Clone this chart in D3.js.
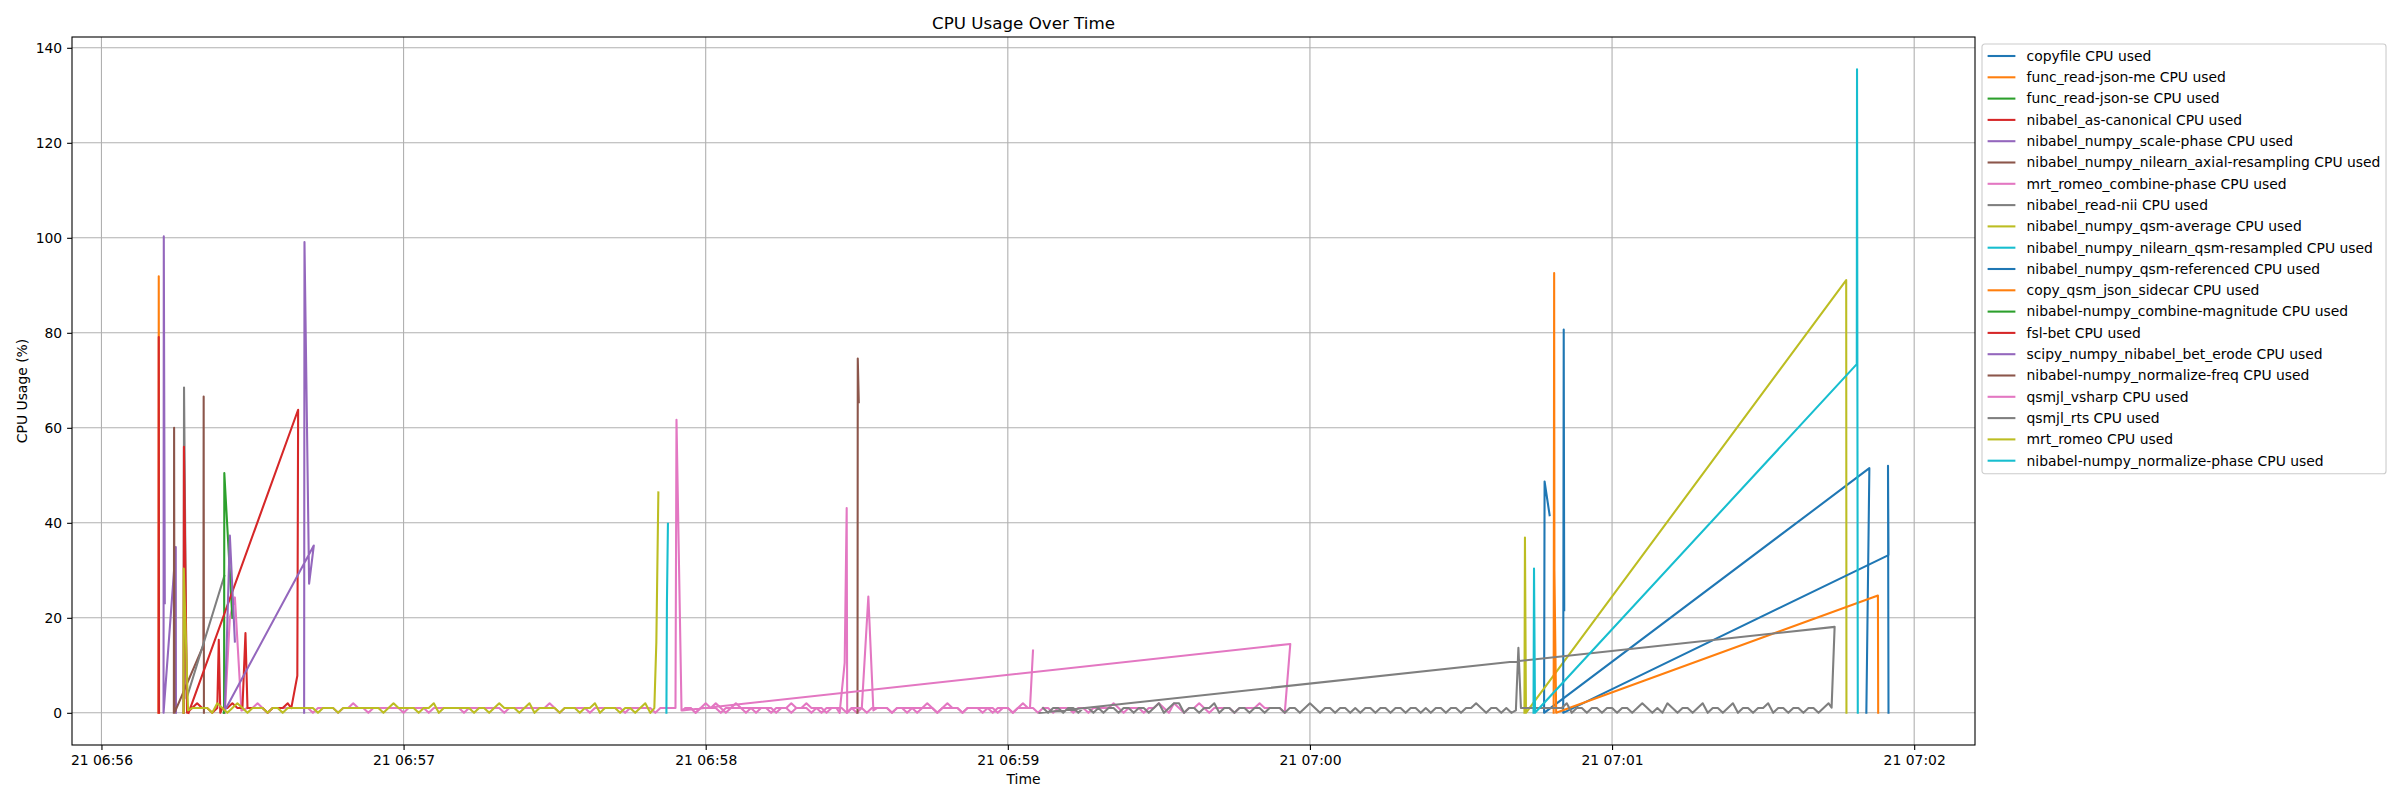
<!DOCTYPE html>
<html><head><meta charset="utf-8">
<script src="https://cdn.jsdelivr.net/npm/d3@7"></script>
<style>
body{margin:0;background:#fff}
text{font-family:"DejaVu Sans",sans-serif;fill:#000}
</style>
</head><body>
<svg id="chart" width="2400" height="800"></svg>
<script>
// ---------- data (seconds after 06:56:00, CPU %) ----------
const startTime = "2024-06-21T06:56:00";
const seriesNames = ["copyfile","func_read-json-me","func_read-json-se","nibabel_as-canonical",
  "nibabel_numpy_scale-phase","nibabel_numpy_nilearn_axial-resampling","mrt_romeo_combine-phase",
  "nibabel_read-nii","nibabel_numpy_qsm-average","nibabel_numpy_nilearn_qsm-resampled",
  "nibabel_numpy_qsm-referenced","copy_qsm_json_sidecar","nibabel-numpy_combine-magnitude","fsl-bet",
  "scipy_numpy_nibabel_bet_erode","nibabel-numpy_normalize-freq","qsmjl_vsharp","qsmjl_rts",
  "mrt_romeo","nibabel-numpy_normalize-phase"];
const palette = ["#1f77b4","#ff7f0e","#2ca02c","#d62728","#9467bd","#8c564b","#e377c2","#7f7f7f","#bcbd22","#17becf"];
const yTickValues = [0,20,40,60,80,100,120,140];

const copyfile = [[287.6,41.6],[286.6,48.7],[286.5,0],[351.1,51.5],[350.5,0]];
const funcReadJsonMe = [[11.33,0],[11.38,91.9],[11.45,0]];
const funcReadJsonSe = [[24.3,0],[24.35,0.5]];
const asCanonical = [[11.35,0],[11.38,79.1],[11.42,0]];
const scalePhase = [[12.58,23.1],[12.38,100.3],[12.33,0],[14.76,34.9],[14.8,0]];
const axialResampling = [[14.38,0],[14.43,60],[14.5,0],[20.25,14.2],[20.3,66.6],[20.35,0]];
const combinePhase = [[24.5,0],[25.5,20],[26.5,24.3],[27.8,0.5],
  {from:29, v:[1,1,2,1,0,1,1,1,1,1, 1,1,1,0,1,1,1,1,0,1, 1,2,1,1,0,1,1,1,1,1, 1,0,1,1,1,1,0,1,1,1,
               1,1,1,0,1,1,1,1,1,1, 1,0,1,1,1,1,1,1,1,1, 2,1,0,1,1,1,1,1,0,1, 1,1,1,1,1,0,1,1,1,1, 1,0,1,1,1]},
  [114.0,1],[114.2,61.7],[115.2,0.5],
  {from:116, v:[1,1,0,1,2,1,1,0,1,1, 2,1,1,1,0,1,1,1,0,1, 1,2,1,1,1,0,1,1,0,1, 1]},
  [146.6,0],[147.6,10.5],[148.0,43.1],[148.1,0],
  {from:149, v:[1,0,1]},
  [152.3,24.5],[153.3,0.5],
  {from:154, v:[1,1,1,0,1,1,0,1,1,1, 2,1,0,1,2,1,1,0,1,1, 1,0,1,1,0,1,1,0,1,2, 1]},
  [184.4,1],[185.0,13.1]];
const readNii = [[16.3,0],[16.4,68.5],[16.9,3],[24.4,28.8]];
const qsmAverage = [[282.6,0],[282.7,36.9],[282.9,0],[346.5,91.1],[346.55,0]];
const qsmResampled = [[112.2,0],[112.3,23],[112.5,39.8]];
const qsmReferenced = [[290.5,21.6],[290.4,80.7],[290.3,0],[354.9,33.2],[354.8,52],[354.9,0]];
const copySidecar = [[288.4,0],[288.5,92.6],[288.55,30],[288.9,0],[352.8,24.7],[352.85,0]];
const combineMagnitude = [[24.35,0],[24.4,50.5],[26.0,20]];
const fslBet = [[16.33,0],[16.38,56],[17.0,0],[18,1],[19,2],[20,1],[21,1],[22,0],[23,1],[23.3,15.4],[23.6,0],
  [24,1],[25,1],[26,2],[27,1],[28,1],[28.6,16.8],[29,1],[30,1],[31,1],[32,1],[33,0],[34,1],[35,1],[36,1],
  [37,2],[37.7,1],[38.9,7.8],[39.06,63.8],[17.3,0]];
const betErode = [[40.25,0],[40.32,99.1],[41.24,27.2],[42.17,35.2],[24.5,0.5],[25.5,37.3],[26.5,15]];
const normalizeFreq = [[150.15,0],[150.2,74.6],[150.4,65.4]];
const vsharp = [
  {from:116, v:[1,1,0,1,1,1,2,1,0,1, 1,1,0,1,1,1,1,0,1,1, 1,0,1,1,2,1,1,0,1,1, 1,1,0,1,1,1,0,1,1,1,
                1,0,1,1,1,1,0,1,1,1, 0,1,1,1,1,0,1,1,1,1, 1,0,1,1,1,0,1,1,1,1, 0,1,1,0,1,1,1,0,1,1,
                0,1,1,1,1,2,1,0,1,1, 1,0,1,1,2,1,0,2,1,0, 1,1,2,1,0,1,1,1,1,0, 1,1,1,1,2,1,1,1,1,0]},
  [236.1,14.5],[115.5,0.5]];
const rts = [
  {from:187, v:[1,0,1,1,0,1,1,0,1,1, 0,1,0,1,1,0,1,1,0,1, 1,0,1,2,0,1,2,2,0,1, 1,0,1,1,2,0,1,1,0,1,
                1,0,1,1,0,1,1,1,0,1, 1,0,1,2,1,0,1,1,0,1, 1,0,1,0,1,1,0,1,1,0, 1,1,0,1,1,0,1,0,1,1,
                0,1,1,0,1,1,2,1,0,1, 1,0,1,0]},
  [280.9,0.5],[281.4,13.7],[281.9,1],
  {from:282, v:[1,1,1,1,1,1,1,1,1,2, 0,1,1,0,1,1,0,1,1,0, 1,1,0,1,2,1,0,1,0,2, 1,0,1,1,0,1,2,0,1,1,
                0,1,2,0,1,1,0,1,1,2, 0,1,1,0,1,1,0,1,1,0, 1,2]},
  [343.6,1.1],[344.2,18.1],[186.3,0]];
const mrtRomeo = [[16.3,0],[16.35,30.4],[17.2,0.5],
  {from:18, v:[1,1,1,1,0,2,1,0,1,2, 1,0,1,1,1,0,1,1,0,1, 1,1,1,1,1,0,1,1,1,0, 1,1,1,1,1,1,1,1,0,1,
               2,1,1,1,1,0,1,1,2,0, 1,1,1,1,1,1,0,1,1,0, 1,2,1,1,1,0,1,2,0,1, 1,1,1,0,1,1,1,0,1,1,
               2,0,1,1,1,0,1,1,0,1, 2,0]},
  [109.8,1],[110.2,14.9],[110.6,46.4]];
const normalizePhase = [[284.4,0],[284.5,30.4],[284.7,0],[348.6,73.4],[348.65,135.5],[348.8,0]];

const seriesPoints = [copyfile, funcReadJsonMe, funcReadJsonSe, asCanonical, scalePhase, axialResampling,
  combinePhase, readNii, qsmAverage, qsmResampled, qsmReferenced, copySidecar, combineMagnitude, fslBet,
  betErode, normalizeFreq, vsharp, rts, mrtRomeo, normalizePhase];

// ---------- build ----------
const base = new Date(startTime).getTime();
function expand(seq){
  const out = [];
  seq.forEach(d => {
    if (Array.isArray(d)) out.push(d);
    else d.v.forEach((v,i) => out.push([d.from + i, v]));
  });
  return out.map(([s,v]) => ({date: new Date(base + s*1000), v}));
}
const series = seriesNames.map((n,i) => ({name: n + " CPU used", color: palette[i % 10], pts: expand(seriesPoints[i])}));

const W = 2400, H = 800;
const L = 72, R = 1975, T = 37, B = 745;
const allPts = series.flatMap(s => s.pts);
const [t0, t1] = d3.extent(allPts, d => +d.date);
const tp = (t1 - t0) * 0.05;
const [v0, v1] = d3.extent(allPts, d => d.v);
const vp = (v1 - v0) * 0.05;
const x = d3.scaleTime().domain([new Date(t0 - tp), new Date(t1 + tp)]).range([L, R]);
const y = d3.scaleLinear().domain([v0 - vp, v1 + vp]).range([B, T]);

const svg = d3.select("#chart");
svg.append("rect").attr("width", W).attr("height", H).attr("fill", "#fff");

const xTicks = x.ticks(d3.timeMinute.every(1));
// grid
const grid = svg.append("g");
grid.selectAll(".gx").data(xTicks).join("line")
  .attr("x1", d => x(d)).attr("x2", d => x(d)).attr("y1", T).attr("y2", B)
  .attr("stroke", "#b0b0b0").attr("stroke-width", 1.1);
grid.selectAll(".gy").data(yTickValues).join("line")
  .attr("x1", L).attr("x2", R).attr("y1", d => y(d)).attr("y2", d => y(d))
  .attr("stroke", "#b0b0b0").attr("stroke-width", 1.1);

// lines
svg.append("clipPath").attr("id", "clip").append("rect")
  .attr("x", L).attr("y", T).attr("width", R - L).attr("height", B - T);
const line = d3.line().x(d => x(d.date)).y(d => y(d.v));
svg.append("g").attr("clip-path", "url(#clip)").selectAll("path").data(series).join("path")
  .attr("d", d => line(d.pts)).attr("fill", "none").attr("stroke", d => d.color)
  .attr("stroke-width", 2.08).attr("stroke-linejoin", "round").attr("stroke-linecap", "square");

// axes
const fs = 13.9;
const xAxis = d3.axisBottom(x).tickValues(xTicks).tickFormat(d3.timeFormat("%d %H:%M"))
  .tickSize(4.9).tickPadding(4.9);
const gx = svg.append("g").attr("transform", `translate(0,${B})`).call(xAxis);
const yAxis = d3.axisLeft(y).tickValues(yTickValues).tickSize(4.9).tickPadding(4.9);
const gy = svg.append("g").attr("transform", `translate(${L},0)`).call(yAxis);
[gx, gy].forEach(g => {
  g.select(".domain").remove();
  g.selectAll(".tick line").attr("stroke", "#000").attr("stroke-width", 1.1);
  g.selectAll(".tick text").attr("font-size", fs).attr("font-family", "DejaVu Sans").attr("fill", "#000");
});
// spines
svg.append("rect").attr("x", L).attr("y", T).attr("width", R - L).attr("height", B - T)
  .attr("fill", "none").attr("stroke", "#000").attr("stroke-width", 1.1);

// labels
svg.append("text").attr("x", (L + R) / 2).attr("y", 28.5).attr("text-anchor", "middle")
  .attr("font-size", 16.7).text("CPU Usage Over Time");
svg.append("text").attr("x", (L + R) / 2).attr("y", 784).attr("text-anchor", "middle")
  .attr("font-size", fs).text("Time");
svg.append("text").attr("transform", `translate(27,${(T + B) / 2}) rotate(-90)`)
  .attr("text-anchor", "middle").attr("font-size", fs).text("CPU Usage (%)");

// legend
const lg = svg.append("g").attr("transform", "translate(1982,44)");
const frame = lg.append("rect").attr("rx", 2.8).attr("ry", 2.8)
  .attr("fill", "#fff").attr("fill-opacity", 0.8).attr("stroke", "#cccccc").attr("stroke-width", 1.1);
const rowH = 21.3, firstY = 12;
const items = lg.selectAll(".item").data(series).join("g")
  .attr("transform", (d,i) => `translate(0,${firstY + i*rowH})`);
items.append("line").attr("x1", 5.6).attr("x2", 33.4).attr("y1", 0).attr("y2", 0)
  .attr("stroke", d => d.color).attr("stroke-width", 2.08).attr("stroke-linecap", "butt");
const texts = items.append("text").attr("x", 44.5).attr("dy", "0.35em").attr("font-size", fs).text(d => d.name);
let maxW = 0;
texts.each(function(){ maxW = Math.max(maxW, this.getComputedTextLength()); });
frame.attr("x", 0).attr("y", 0).attr("width", 44.5 + maxW + 5.6)
  .attr("height", firstY + (series.length - 1) * rowH + 13);
</script>
</body></html>
